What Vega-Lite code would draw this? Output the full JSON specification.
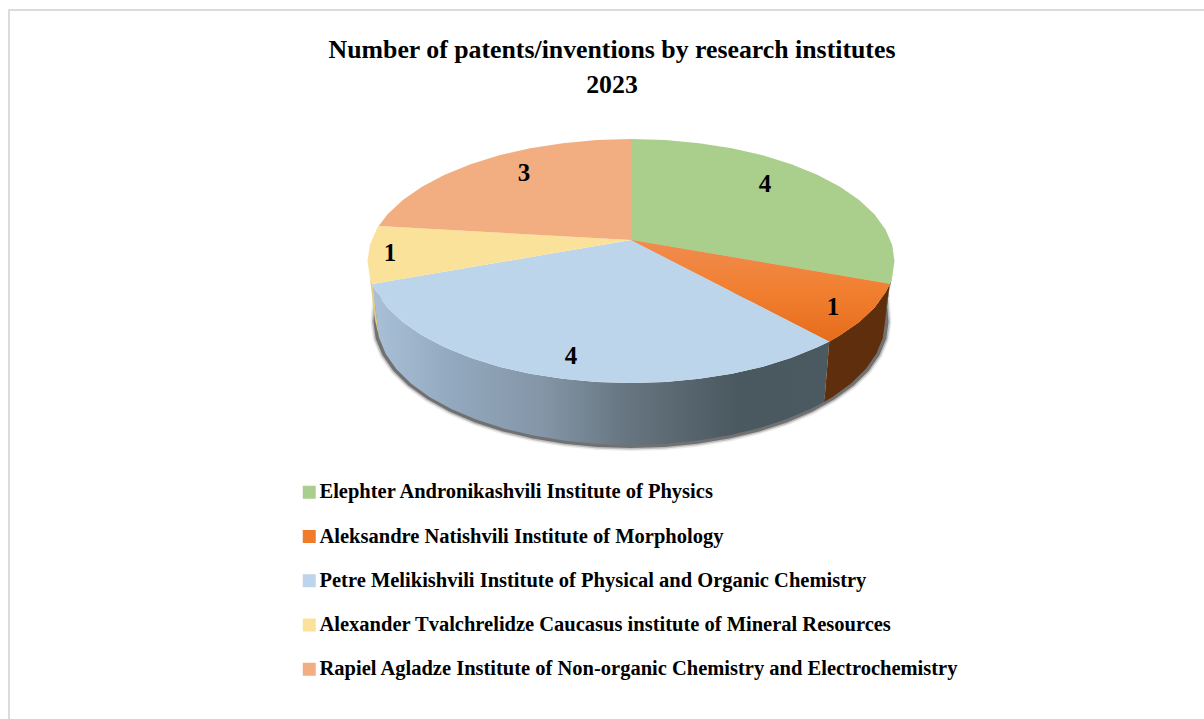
{"$schema":"https://vega.github.io/schema/vega-lite/v6.json","width":1204,"height":719,"autosize":"none","padding":0,"background":"white","config":{"view":{"stroke":null}},
"title":{"text":["Number of patents/inventions by research institutes","2023"],"font":"Liberation Serif","fontSize":25.8,"fontWeight":"bold","lineHeight":35,"color":"#000","anchor":"middle","dx":10,"offset":-99},
"projection":{"type":"identity","scale":1,"translate":[0,0]},
"datasets":{"pie":[
{"type":"Feature","properties":{"part":"frame"},"geometry":{"type":"LineString","coordinates":[[9,800],[9,10],[1300,10]]}},
{"type":"Feature","properties":{"part":"shadow"},"geometry":{"type":"Polygon","coordinates":[[[376,322],[378,296],[884,296],[886,322],[883.8,338.1],[877.3,353.8],[866.7,369.1],[852,383.5],[833.5,396.9],[811,409.5],[786,420.2],[758.4,429],[728.6,436.1],[697,441.3],[664.4,444.5],[631,445.5],[597.6,444.5],[565,441.3],[533.4,436.1],[503.6,429],[476,420.2],[451,409.5],[428.5,396.9],[410,383.5],[395.3,369.1],[384.7,353.8],[378.2,338.1],[376,322]]]}},
{"type":"Feature","properties":{"part":"wall-blue"},"geometry":{"type":"Polygon","coordinates":[[[372.2,284],[376.5,292.6],[387.6,307.7],[402.8,322],[422,335.3],[444.7,347.3],[470.6,357.8],[499.2,366.7],[530.2,373.7],[562.8,378.8],[596.6,382],[631,383],[665.4,382],[699.2,378.8],[731.8,373.7],[762.8,366.7],[791.4,357.8],[817.3,347.3],[829.3,341.5],[824.3,401.8],[810.6,409],[785.6,419.6],[758,428.5],[728.2,435.6],[696.7,440.8],[664.2,444],[631,445],[597.8,444],[565.3,440.8],[533.8,435.6],[504,428.5],[476.4,419.6],[451.4,409],[429.5,396.9],[411,383.5],[396.3,369.1],[385.7,353.8],[379.2,338.1],[372.2,284]]]}},
{"type":"Feature","properties":{"part":"wall-orange"},"geometry":{"type":"Polygon","coordinates":[[[889.8,284],[885.5,292.6],[874.4,307.7],[859.2,322],[840,335.3],[829.3,341.5],[824.3,401.8],[832.5,396.9],[851,383.5],[865.7,369.1],[876.3,353.8],[882.8,338.1],[885,322],[889.8,284]]]}},
{"type":"Feature","properties":{"part":"wall-yellow"},"geometry":{"type":"Polygon","coordinates":[[[369.8,276.9],[372.2,284],[379.2,338.1],[375,320],[369.8,276.9]]]}},
{"type":"Feature","properties":{"part":"wall-green"},"geometry":{"type":"Polygon","coordinates":[[[892.2,276.9],[889.8,284],[885,322],[887,300],[892.2,276.9]]]}},
{"type":"Feature","properties":{"part":"top","institute":"Elephter Andronikashvili Institute of Physics","value":4},"geometry":{"type":"Polygon","coordinates":[[[631,240],[631,139],[665.4,140],[699.2,143.2],[731.8,148.3],[762.8,155.3],[791.4,164.2],[817.3,174.7],[840,186.7],[859.2,200],[874.4,214.3],[885.5,229.4],[892.2,245.1],[894.5,261],[892.2,276.9],[889.8,284],[631,240]]]}},
{"type":"Feature","properties":{"part":"top","institute":"Aleksandre Natishvili Institute of Morphology","value":1},"geometry":{"type":"Polygon","coordinates":[[[631,240],[889.8,284],[885.5,292.6],[874.4,307.7],[859.2,322],[840,335.3],[829.3,341.5],[631,240]]]}},
{"type":"Feature","properties":{"part":"top","institute":"Petre Melikishvili Institute of Physical and Organic Chemistry","value":4},"geometry":{"type":"Polygon","coordinates":[[[631,240],[829.3,341.5],[817.3,347.3],[791.4,357.8],[762.8,366.7],[731.8,373.7],[699.2,378.8],[665.4,382],[631,383],[596.6,382],[562.8,378.8],[530.2,373.7],[499.2,366.7],[470.6,357.8],[444.7,347.3],[422,335.3],[402.8,322],[387.6,307.7],[376.5,292.6],[372.2,284],[631,240]]]}},
{"type":"Feature","properties":{"part":"top","institute":"Alexander Tvalchrelidze Caucasus institute of Mineral Resources","value":1},"geometry":{"type":"Polygon","coordinates":[[[631,240],[372.2,284],[369.8,276.9],[367.5,261],[369.8,245.1],[376.5,229.4],[378.6,226],[631,240]]]}},
{"type":"Feature","properties":{"part":"top","institute":"Rapiel Agladze Institute of Non-organic Chemistry and Electrochemistry","value":3},"geometry":{"type":"Polygon","coordinates":[[[631,240],[378.6,226],[387.6,214.3],[402.8,200],[422,186.7],[444.7,174.7],[470.6,164.2],[499.2,155.3],[530.2,148.3],[562.8,143.2],[596.6,140],[631,139],[631,240]]]}}
],
"labels":[
{"institute":"Elephter Andronikashvili Institute of Physics","value":4,"lon":765,"lat":184},
{"institute":"Aleksandre Natishvili Institute of Morphology","value":1,"lon":833,"lat":307},
{"institute":"Petre Melikishvili Institute of Physical and Organic Chemistry","value":4,"lon":571,"lat":356},
{"institute":"Alexander Tvalchrelidze Caucasus institute of Mineral Resources","value":1,"lon":390,"lat":253},
{"institute":"Rapiel Agladze Institute of Non-organic Chemistry and Electrochemistry","value":3,"lon":524,"lat":173}
]},
"data":{"name":"pie"},
"layer":[
{"transform":[{"filter":"datum.properties.part==='frame'"}],"mark":{"type":"geoshape","filled":false,"stroke":"#dcdcdc","strokeWidth":2}},
{"transform":[{"filter":"datum.properties.part==='shadow'"}],"mark":{"type":"geoshape","filled":false,"stroke":"#333333","strokeWidth":11,"strokeOpacity":0.1}},
{"transform":[{"filter":"datum.properties.part==='shadow'"}],"mark":{"type":"geoshape","filled":false,"stroke":"#333333","strokeWidth":8,"strokeOpacity":0.25}},
{"transform":[{"filter":"datum.properties.part==='shadow'"}],"mark":{"type":"geoshape","filled":false,"stroke":"#333333","strokeWidth":5,"strokeOpacity":0.55}},
{"transform":[{"filter":"datum.properties.part==='wall-blue'"}],"mark":{"type":"geoshape","strokeWidth":0,"fill":{"gradient":"linear","x1":0,"x2":1,"y1":0,"y2":0,"stops":[{"offset":0,"color":"#a9c1d8"},{"offset":0.17,"color":"#93a9bf"},{"offset":0.37,"color":"#8496a8"},{"offset":0.56,"color":"#66757f"},{"offset":0.8,"color":"#4a5860"},{"offset":1,"color":"#4b5961"}]}}},
{"transform":[{"filter":"datum.properties.part==='wall-orange'"}],"mark":{"type":"geoshape","strokeWidth":0,"fill":"#5f2e0c"}},
{"transform":[{"filter":"datum.properties.part==='wall-yellow'"}],"mark":{"type":"geoshape","strokeWidth":0,"fill":"#e6cb84"}},
{"transform":[{"filter":"datum.properties.part==='wall-green'"}],"mark":{"type":"geoshape","strokeWidth":0,"fill":"#4f6d3f"}},
{"transform":[{"filter":"datum.properties.part==='top'"}],"mark":{"type":"geoshape","strokeWidth":0},
"encoding":{"color":{"field":"properties.institute","type":"nominal","scale":{"domain":["Elephter Andronikashvili Institute of Physics","Aleksandre Natishvili Institute of Morphology","Petre Melikishvili Institute of Physical and Organic Chemistry","Alexander Tvalchrelidze Caucasus institute of Mineral Resources","Rapiel Agladze Institute of Non-organic Chemistry and Electrochemistry"],"range":["#aacf8c","#f07b2b","#bcd5ea","#fbe29b","#f2ae80"]},
"legend":{"orient":"none","legendX":299,"legendY":482,"title":null,"symbolType":"square","symbolSize":169,"symbolStrokeWidth":0,"labelFont":"Liberation Serif","labelFontSize":20.5,"labelFontWeight":"bold","labelColor":"#000","labelLimit":800,"labelOffset":0,"rowPadding":23.25}}}},
{"transform":[{"filter":"datum.properties.part==='top' && datum.properties.value===1 && indexof(datum.properties.institute,'Morphology')>0"}],"mark":{"type":"geoshape","strokeWidth":0,"fill":{"gradient":"linear","x1":0,"x2":0,"y1":0,"y2":1,"stops":[{"offset":0,"color":"#f08c50"},{"offset":0.5,"color":"#f17f30"},{"offset":1,"color":"#e56d1b"}]}}},
{"data":{"name":"labels"},"mark":{"type":"text","font":"Liberation Serif","fontSize":25,"fontWeight":"bold","color":"#000","align":"center","baseline":"middle"},"encoding":{"longitude":{"field":"lon","type":"quantitative"},"latitude":{"field":"lat","type":"quantitative"},"text":{"field":"value","type":"quantitative"}}}
]}
